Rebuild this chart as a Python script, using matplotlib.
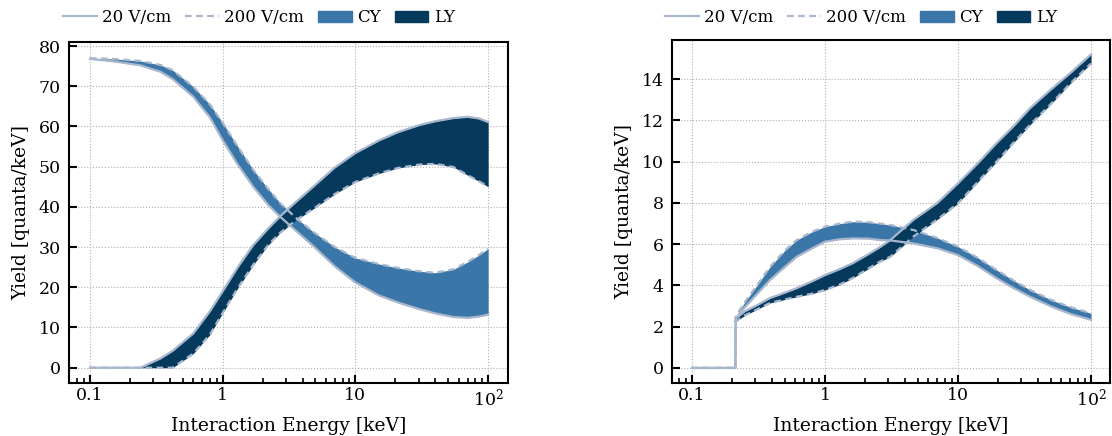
import numpy as np
import matplotlib
matplotlib.use("Agg")
import matplotlib.pyplot as plt
from matplotlib.lines import Line2D
from matplotlib.patches import Patch

plt.rcParams['font.family'] = 'DejaVu Serif'
plt.rcParams['mathtext.fontset'] = 'dejavuserif'

# ==================================================
# DATA - left panel
# ==================================================

energy_l = [0.1, 0.15, 0.24, 0.34, 0.42, 0.6, 0.8, 1.0, 1.3, 1.7, 2.2, 2.7,
            3.5, 4.8, 7, 10, 15, 21, 30, 40, 55, 70, 85, 100]
cy_200_l = [77.0, 76.8, 76.3, 75.3, 74.0, 69.9, 65.5, 60.9, 55.0, 49.2, 44.5, 41.0,
            37.5, 33.8, 30.0, 27.3, 25.8, 24.8, 24.0, 23.6, 24.5, 26.3, 28.0, 29.6]
cy_20_l = [76.8, 76.2, 75.2, 73.6, 71.8, 67.4, 62.3, 56.6, 50.5, 45.0, 40.5, 37.6,
           34.3, 30.3, 25.2, 21.2, 18.0, 16.2, 14.6, 13.5, 12.6, 12.4, 12.7, 13.2]
ly_20_l = [0, 0, 0, 2.3, 4.2, 8.5, 14.0, 19.0, 25.0, 30.5, 34.6, 37.6,
           41.0, 45.0, 49.8, 53.4, 56.5, 58.6, 60.3, 61.3, 62.1, 62.4, 62.0, 61.1]
ly_200_l = [0, 0, 0, 0, 0, 3.5, 8.2, 13.6, 19.8, 25.6, 30.5, 33.5,
            36.5, 39.5, 43.2, 46.2, 48.3, 49.7, 50.5, 50.7, 49.9, 47.9, 46.4, 45.0]

# ==================================================
# DATA - right panel
# ==================================================

energy_r = [0.1, 0.212, 0.213, 0.25, 0.3, 0.386, 0.5, 0.613, 0.8, 1.0, 1.3, 1.62,
            2.1, 2.58, 3.1, 4.6, 7, 10, 14, 19.5, 26, 34.9, 50, 70, 100]
cy_200_r = [0, 0, 2.5, 3.2, 3.9, 4.9, 5.7, 6.2, 6.6, 6.85, 7.0, 7.09,
            7.07, 7.0, 6.93, 6.69, 6.3, 5.88, 5.35, 4.75, 4.25, 3.78, 3.3, 2.95, 2.65]
cy_20_r = [0, 0, 2.4, 2.95, 3.5, 4.26, 4.9, 5.39, 5.8, 6.12, 6.24, 6.28,
           6.27, 6.2, 6.18, 6.04, 5.8, 5.47, 4.95, 4.35, 3.88, 3.45, 2.98, 2.62, 2.33]
ly_20_r = [0, 0, 2.4, 2.75, 3.0, 3.39, 3.65, 3.87, 4.2, 4.5, 4.8, 5.08,
           5.5, 5.85, 6.2, 7.17, 8.0, 8.95, 9.9, 10.9, 11.7, 12.6, 13.5, 14.3, 15.2]
ly_200_r = [0, 0, 2.25, 2.55, 2.8, 3.15, 3.32, 3.45, 3.6, 3.78, 4.05, 4.36,
            4.8, 5.15, 5.39, 6.36, 7.2, 7.98, 9.0, 10.0, 10.9, 11.8, 12.8, 13.8, 14.76]

x_ticks = [0.1, 1, 10, 100]
x_labels = ['0.1', '1', '10', '$10^2$']

cy_color = '#3a76a8'
ly_color = '#053a5d'
edge_color = '#a8b7cd'

# ==================================================
# PLOT
# ==================================================

fig = plt.figure(figsize=(11.12, 4.36), dpi=100)
ax_l = fig.add_axes([0.062, 0.1216, 0.3948, 0.782])
ax_r = fig.add_axes([0.6043, 0.1216, 0.3939, 0.7867])

panels = [
    (ax_l, energy_l, cy_20_l, cy_200_l, ly_20_l, ly_200_l, (-3.8, 81),
     np.arange(0, 81, 10), (0.0695, 141), 259),
    (ax_r, energy_r, cy_20_r, cy_200_r, ly_20_r, ly_200_r, (-0.73, 15.9),
     np.arange(0, 15, 2), (0.0707, 139), 861),
]

for ax, e, cy20, cy200, ly20, ly200, ylim, yticks, xlim, leg_x in panels:
    ax.fill_between(e, cy20, cy200, color=cy_color, lw=0, zorder=2)
    ax.fill_between(e, ly200, ly20, color=ly_color, lw=0, zorder=3)
    for y20, y200 in [(cy20, cy200), (ly20, ly200)]:
        ax.plot(e, y20, color=edge_color, lw=1.6, ls='-', zorder=4)
        ax.plot(e, y200, color=edge_color, lw=1.6, ls='--', dashes=(3, 2), zorder=4)

    ax.set_xscale('log')
    ax.set_xlim(*xlim)
    ax.set_ylim(*ylim)
    ax.set_xticks(x_ticks)
    ax.set_xticklabels(x_labels)
    ax.set_yticks(yticks)
    ax.tick_params(axis='both', which='major', direction='in', length=6, width=1.5,
                   labelsize=12.5, top=False, right=False)
    ax.tick_params(axis='x', which='minor', direction='in', length=3.5, width=1.2,
                   top=False)
    ax.tick_params(axis='x', which='major', pad=3)
    ax.tick_params(axis='y', which='major', pad=6)
    for sp in ax.spines.values():
        sp.set_linewidth(1.5)
    ax.grid(True, which='major', ls=':', color='#b0b0b0', lw=0.8, zorder=0)
    ax.set_axisbelow(True)

    ax.set_xlabel('Interaction Energy [keV]', fontsize=13.5, labelpad=6)
    ax.set_ylabel('Yield [quanta/keV]', fontsize=13.5, labelpad=6)

    handles = [
        Line2D([], [], color=edge_color, lw=1.6, ls='-'),
        Line2D([], [], color=edge_color, lw=1.6, ls='--', dashes=(3, 2)),
        Patch(color=cy_color),
        Patch(color=ly_color),
    ]
    ax.legend(handles, ['20 V/cm', '200 V/cm', 'CY', 'LY'], loc='center',
              bbox_to_anchor=(leg_x / 1112, 1 - 17.7 / 436),
              bbox_transform=fig.transFigure, ncol=4, frameon=False, fontsize=12,
              handlelength=2.0, handletextpad=0.33, columnspacing=0.85,
              borderaxespad=0.0, borderpad=0.0)

fig.savefig('out.png', dpi=100)
